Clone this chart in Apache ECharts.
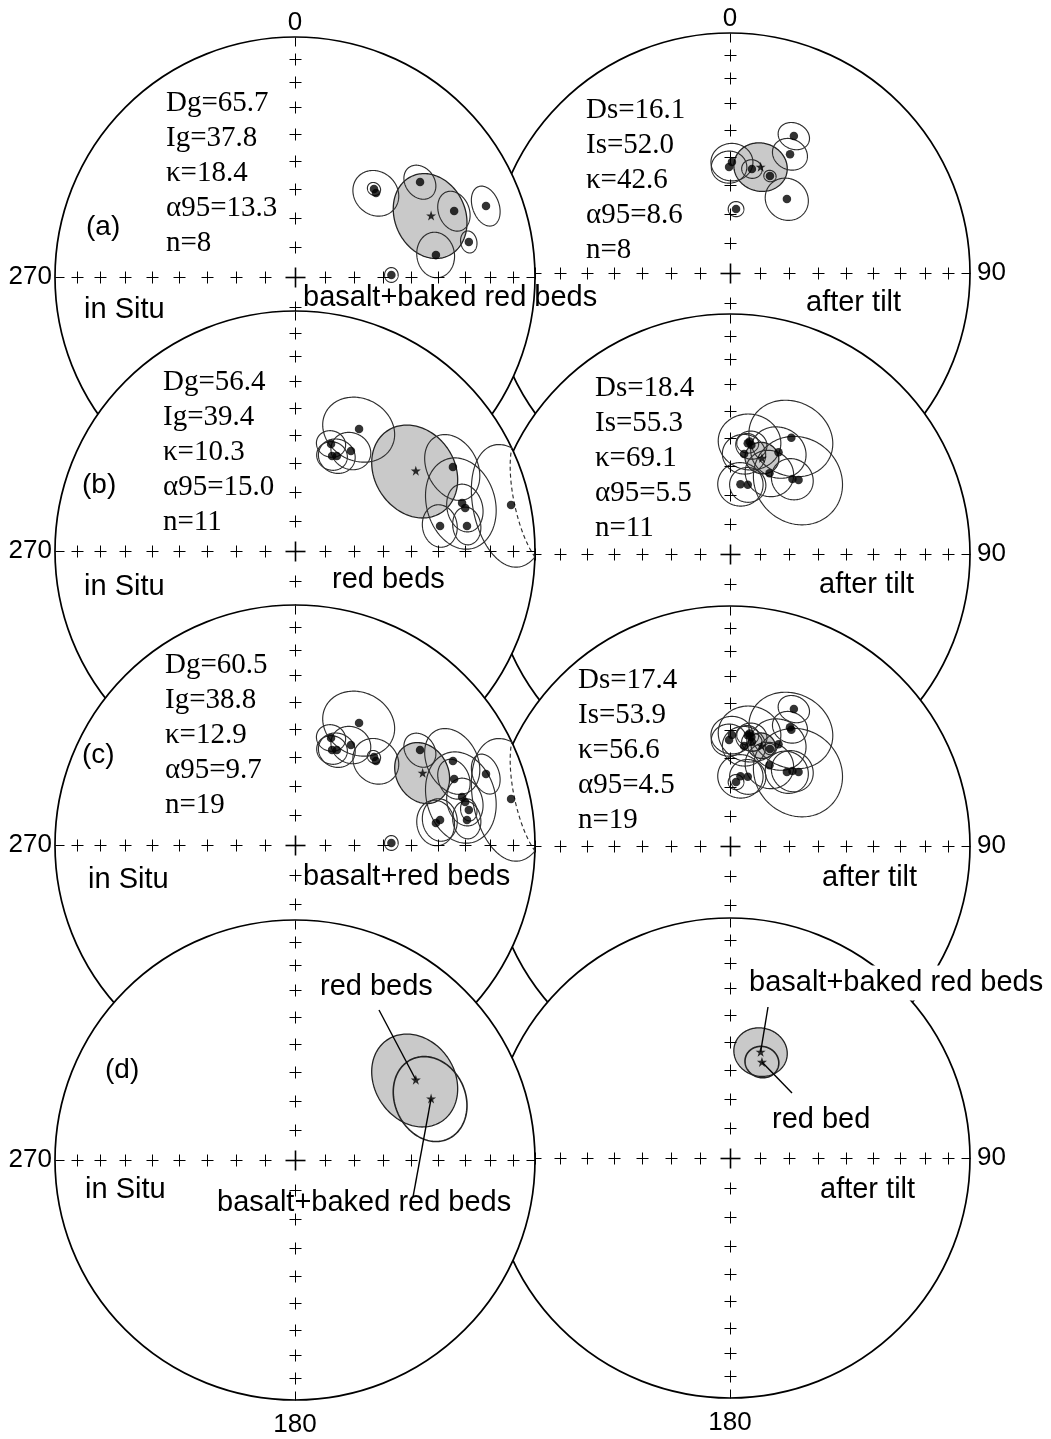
<!DOCTYPE html>
<html>
<head>
<meta charset="utf-8">
<script src="https://cdn.jsdelivr.net/npm/echarts@6/dist/echarts.min.js"></script>
<style>
  html, body { margin: 0; padding: 0; background: #fff; }
  #chart { width: 1051px; height: 1439px; }
</style>
</head>
<body>
<div id="chart"></div>
<script>
// Site directions: [declination, inclination, alpha95]
const basaltGeo = [
  [41.9, 49.2, 2.2], [44.0, 49.8, 7.7], [52.8, 34.9, 5.5], [67.5, 29.0, 6.0],
  [69.6, 16.2, 5.6], [78.6, 27.0, 3.2], [81.1, 40.3, 7.0], [88.8, 57.0, 2.4]
];
const redGeo = [
  [27.7, 42.1, 11.5], [18.6, 51.1, 4.7], [21.3, 55.0, 5.0], [23.8, 54.4, 6.0],
  [29.2, 50.5, 6.5], [62.0, 26.4, 10.0], [74.0, 28.4, 13.5], [75.8, 27.7, 7.0],
  [80.2, 38.6, 6.5], [81.7, 28.4, 5.5], [78.0, 8.8, 16.0]
];
const basaltTilt = [
  [1.0, 51.8, 6.7], [359.5, 53.6, 5.7], [11.9, 53.5, 3.3], [22.4, 54.0, 2.0],
  [25.0, 37.1, 4.9], [26.8, 43.8, 5.6], [37.6, 58.1, 7.2], [5.4, 68.2, 2.6]
];
const redTilt = [
  [27.8, 44.4, 13.5], [9.9, 50.7, 10.0], [11.1, 51.8, 5.0], [9.1, 51.4, 3.5],
  [8.0, 55.4, 7.0], [25.5, 51.2, 9.0], [26.1, 59.3, 8.0], [8.5, 66.0, 7.5],
  [14.4, 65.7, 6.0], [39.8, 56.6, 7.0], [42.8, 55.4, 15.0]
];

// Fisher means: [D, I, kappa, alpha95, n]
const meanBasaltGeo  = [65.7, 37.8, 18.4, 13.3, 8];
const meanBasaltTilt = [16.1, 52.0, 42.6, 8.6, 8];
const meanRedGeo     = [56.4, 39.4, 10.3, 15.0, 11];
const meanRedTilt    = [18.4, 55.3, 69.1, 5.5, 11];
const meanAllGeo     = [60.5, 38.8, 12.9, 9.7, 19];
const meanAllTilt    = [17.4, 53.9, 56.6, 4.5, 19];

// Net graticule: inclination of the crosses along each axis
const crossIncs = [10, 20, 30, 40, 50, 60, 70, 80];

const RAD = Math.PI / 180;
const R = 240;
const SANS = '"Liberation Sans", Arial, sans-serif';
const SERIF = '"Liberation Serif", "Times New Roman", serif';

// Lambert equal-area projection, lower hemisphere; upper-hemisphere points are flagged
function project(dec, inc) {
  const rho = Math.SQRT2 * Math.sin((90 - Math.abs(inc)) / 2 * RAD);
  return [rho * Math.sin(dec * RAD), rho * Math.cos(dec * RAD), inc < 0];
}

// Cone of confidence around a direction, split into lower/upper hemisphere runs
function smallCircle(dec, inc, a95) {
  const d = dec * RAD, i = inc * RAD, a = a95 * RAD;
  const c = [Math.cos(i) * Math.cos(d), Math.cos(i) * Math.sin(d), Math.sin(i)];
  const u = [-Math.sin(i) * Math.cos(d), -Math.sin(i) * Math.sin(d), Math.cos(i)];
  const v = [-Math.sin(d), Math.cos(d), 0];
  const runs = [];
  let cur = null;
  for (let t = 0; t <= 360; t += 2) {
    const tt = t * RAD;
    const p = [0, 1, 2].map(k => Math.cos(a) * c[k] + Math.sin(a) * (Math.cos(tt) * u[k] + Math.sin(tt) * v[k]));
    const pinc = Math.asin(Math.max(-1, Math.min(1, p[2]))) / RAD;
    const pdec = Math.atan2(p[1], p[0]) / RAD;
    const pr = project(pdec, pinc);
    if (!cur || cur.up !== pr[2]) {
      const prev = cur ? cur.pts[cur.pts.length - 1] : null;
      cur = { up: pr[2], pts: prev ? [prev] : [] };
      runs.push(cur);
    }
    cur.pts.push([pr[0], pr[1]]);
  }
  return runs;
}

function statLines(m, tilt) {
  return [
    (tilt ? 'Ds=' : 'Dg=') + m[0].toFixed(1),
    (tilt ? 'Is=' : 'Ig=') + m[1].toFixed(1),
    '\u03ba=' + m[2].toFixed(1),
    '\u03b195=' + m[3].toFixed(1),
    'n=' + m[4]
  ];
}

// Nets in drawing order (later ones cover earlier ones)
const NETS = [
  { cx: 730, cy: 273, side: 'R', tilt: true, top: true, dirs: basaltTilt,
    means: [{ m: meanBasaltTilt, fill: true }], stats: meanBasaltTilt, statPos: [-144, -163],
    sidePos: [76, 30], labels: [] },
  { cx: 295, cy: 277, side: 'L', tilt: false, top: true, dirs: basaltGeo,
    means: [{ m: meanBasaltGeo, fill: true }], stats: meanBasaltGeo, statPos: [-129, -174],
    letter: '(a)', letterPos: [-209, -50], sidePos: [-211, 33],
    labels: [{ text: 'basalt+baked red beds', pos: [8, 21] }] },
  { cx: 730, cy: 554, side: 'R', tilt: true, dirs: redTilt,
    means: [{ m: meanRedTilt, fill: true }], stats: meanRedTilt, statPos: [-135, -166],
    sidePos: [89, 31], labels: [] },
  { cx: 295, cy: 551, side: 'L', tilt: false, dirs: redGeo,
    means: [{ m: meanRedGeo, fill: true }], stats: meanRedGeo, statPos: [-132, -169],
    letter: '(b)', letterPos: [-213, -66], sidePos: [-211, 36],
    labels: [{ text: 'red beds', pos: [37, 29] }] },
  { cx: 730, cy: 846, side: 'R', tilt: true, dirs: basaltTilt.concat(redTilt),
    means: [{ m: meanAllTilt, fill: true }], stats: meanAllTilt, statPos: [-152, -166],
    sidePos: [92, 32], labels: [] },
  { cx: 295, cy: 845, side: 'L', tilt: false, dirs: basaltGeo.concat(redGeo),
    means: [{ m: meanAllGeo, fill: true }], stats: meanAllGeo, statPos: [-130, -180],
    letter: '(c)', letterPos: [-213, -90], sidePos: [-207, 35],
    labels: [{ text: 'basalt+red beds', pos: [8, 32] }] },
  { cx: 730, cy: 1158, side: 'R', tilt: true, bottom: true, dirs: [],
    means: [{ m: meanBasaltTilt, fill: true }, { m: meanRedTilt, fill: false }],
    sidePos: [90, 32],
    labels: [{ text: 'basalt+baked red beds', pos: [15, -175], bg: true },
             { text: 'red bed', pos: [42, -38] }],
    leaders: [{ mean: meanBasaltTilt, end: [38, -151] }, { mean: meanRedTilt, end: [62, -65] }] },
  { cx: 295, cy: 1160, side: 'L', tilt: false, bottom: true, dirs: [],
    means: [{ m: meanRedGeo, fill: true }, { m: meanBasaltGeo, fill: false }],
    letter: '(d)', letterPos: [-190, -90], sidePos: [-210, 30],
    labels: [{ text: 'red beds', pos: [25, -173] },
             { text: 'basalt+baked red beds', pos: [-78, 43] }],
    leaders: [{ mean: meanRedGeo, end: [84, -150] }, { mean: meanBasaltGeo, end: [118, 37] }] }
];

const grids = [], xAxes = [], yAxes = [], series = [];
const starPath = 'path://M50,0 L61.8,35.1 98.1,35.1 68.8,56.7 79.4,90.9 50,69.1 20.6,90.9 31.2,56.7 1.9,35.1 38.2,35.1 Z';

function txt(x, y, text, font, align, bg) {
  const style = { text: text, fill: '#000', font: font, align: align || 'left', verticalAlign: 'middle' };
  if (bg) { style.backgroundColor = '#fff'; style.padding = [3, 4]; }
  return { type: 'text', x: x, y: y, style: style };
}
function seg(x1, y1, x2, y2, w) {
  return { type: 'line', shape: { x1, y1, x2, y2 }, style: { stroke: '#000', lineWidth: w || 1 } };
}
const snap = v => Math.round(v) + 0.5;

NETS.forEach((net, k) => {
  grids.push({ left: net.cx - R, top: net.cy - R, width: 2 * R, height: 2 * R, show: false });
  xAxes.push({ type: 'value', gridIndex: k, min: -1, max: 1, show: false });
  yAxes.push({ type: 'value', gridIndex: k, min: -1, max: 1, show: false });
  const base = k * 10;
  const ax = { xAxisIndex: k, yAxisIndex: k, silent: true, animation: false };

  // primitive circle with white interior
  series.push(Object.assign({
    type: 'custom', z: base + 1, clip: false, data: [[0, 0]],
    renderItem: (p, api) => {
      const c = api.coord([0, 0]);
      const r = api.coord([1, 0])[0] - c[0];
      return { type: 'circle', shape: { cx: c[0], cy: c[1], r: r },
               style: { fill: '#fff', stroke: '#000', lineWidth: 1.7 } };
    }
  }, ax));

  // mean directions with their alpha95 cones
  series.push(Object.assign({
    type: 'custom', z: base + 2, clip: false,
    data: net.means.map(o => { const pr = project(o.m[0], o.m[1]); return [pr[0], pr[1], o.m[0], o.m[1], o.m[3], o.fill ? 1 : 0]; }),
    renderItem: (p, api) => {
      const runs = smallCircle(api.value(2), api.value(3), api.value(4));
      const pts = [].concat(...runs.map(r => r.pts)).map(q => api.coord(q));
      const filled = api.value(5) === 1;
      return { type: 'polygon', z2: filled ? 0 : 10, shape: { points: pts },
               style: { fill: filled ? '#c9c9c9' : null, stroke: '#222', lineWidth: filled ? 1.3 : 1.6 } };
    }
  }, ax));

  // site cones of confidence
  if (net.dirs.length) {
    series.push(Object.assign({
      type: 'custom', z: base + 3, clip: false,
      data: net.dirs.map(d => { const pr = project(d[0], d[1]); return [pr[0], pr[1], d[0], d[1], d[2]]; }),
      renderItem: (p, api) => {
        const runs = smallCircle(api.value(2), api.value(3), api.value(4));
        return { type: 'group', children: runs.map(r => ({
          type: 'polyline', shape: { points: r.pts.map(q => api.coord(q)) },
          style: { fill: null, stroke: '#2e2e2e', lineWidth: 1.15, lineDash: r.up ? [4, 3] : 'solid' }
        })) };
      }
    }, ax));

    // site directions
    series.push(Object.assign({
      type: 'scatter', z: base + 4, symbol: 'circle', symbolSize: 8.5,
      itemStyle: { color: '#000' },
      data: net.dirs.map(d => { const pr = project(d[0], d[1]); return [pr[0], pr[1]]; })
    }, ax));
  }

  // mean stars
  series.push(Object.assign({
    type: 'scatter', z: base + 5, symbol: starPath, symbolSize: 10,
    itemStyle: { color: '#000' },
    data: net.means.map(o => { const pr = project(o.m[0], o.m[1]); return [pr[0], pr[1]]; })
  }, ax));

  // graticule crosses, annotation text and leader lines
  series.push(Object.assign({
    type: 'custom', z: base + 6, clip: false, data: [[0, 0]],
    renderItem: (p, api) => {
      const c = api.coord([0, 0]);
      const r = api.coord([1, 0])[0] - c[0];
      const ch = [];
      const dirs = [[0, -1], [1, 0], [0, 1], [-1, 0]];
      dirs.forEach(dv => {
        crossIncs.forEach(inc => {
          const rho = Math.SQRT2 * Math.sin((90 - inc) / 2 * RAD) * r;
          const x = snap(c[0] + dv[0] * rho), y = snap(c[1] + dv[1] * rho);
          ch.push(seg(x - 6, y, x + 6, y, 1));
          ch.push(seg(x, y - 6, x, y + 6, 1));
        });
        // tick at the primitive
        const ex = snap(c[0] + dv[0] * r), ey = snap(c[1] + dv[1] * r);
        ch.push(seg(ex, ey, ex - dv[0] * 9, ey - dv[1] * 9, 1));
      });
      const cx = snap(c[0]), cy = snap(c[1]);
      ch.push(seg(cx - 10, cy, cx + 10, cy, 1.6));
      ch.push(seg(cx, cy - 10, cx, cy + 10, 1.6));

      if (net.stats) {
        statLines(net.stats, net.tilt).forEach((s, j) => {
          ch.push(txt(c[0] + net.statPos[0], c[1] + net.statPos[1] + j * 35, s, '29px ' + SERIF));
        });
      }
      if (net.letter) ch.push(txt(c[0] + net.letterPos[0], c[1] + net.letterPos[1], net.letter, '28px ' + SANS));
      ch.push(txt(c[0] + net.sidePos[0], c[1] + net.sidePos[1], net.side === 'L' ? 'in Situ' : 'after tilt', '29px ' + SANS));
      net.labels.forEach(l => ch.push(txt(c[0] + l.pos[0], c[1] + l.pos[1], l.text, '29px ' + SANS, 'left', l.bg)));
      if (net.side === 'L') ch.push(txt(c[0] - r - 3, c[1], '270', '26px ' + SANS, 'right'));
      else ch.push(txt(c[0] + r + 7, c[1], '90', '26px ' + SANS, 'left'));
      if (net.top) ch.push(txt(c[0], c[1] - r - 14, '0', '26px ' + SANS, 'center'));
      if (net.bottom) ch.push(txt(c[0], c[1] + r + 25, '180', '26px ' + SANS, 'center'));
      (net.leaders || []).forEach(ld => {
        const s = api.coord(project(ld.mean[0], ld.mean[1]).slice(0, 2));
        ch.push(seg(s[0], s[1], c[0] + ld.end[0], c[1] + ld.end[1], 1.4));
      });
      return { type: 'group', children: ch };
    }
  }, ax));
});

const chart = echarts.init(document.getElementById('chart'), null, { renderer: 'canvas' });
chart.setOption({
  backgroundColor: '#fff',
  animation: false,
  grid: grids,
  xAxis: xAxes,
  yAxis: yAxes,
  series: series
});
</script>
</body>
</html>
